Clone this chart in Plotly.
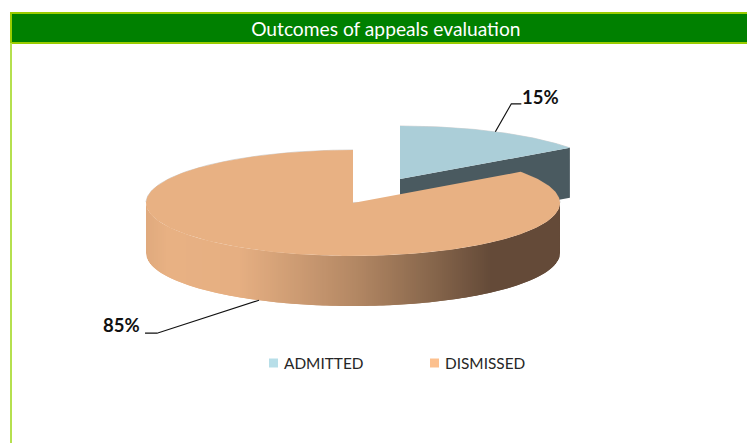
import numpy as np
import plotly.graph_objects as go

# ---- data ----
categories = ["ADMITTED", "DISMISSED"]
values = [15, 85]
title_text = "Outcomes of appeals evaluation"

# ---- styles ----
top_colors = ["#ABCED8", "#E8B183"]
legend_colors = ["#B7DEE8", "#FCC08E"]
cut_color = "#4A5A60"
FONT = "Lato"
W, H = 747, 443

# ---- projection of the tilted pie onto the plot ----
RXS, RY, DEPTH = [210, 207], 53, 50
centers = [(400, 179), (353, 203)]
total = sum(values)
shares = [v / total for v in values]
starts = [0, shares[0] * 360]
ends = [shares[0] * 360, 360]


def arc(i, a0, a1, n=120):
    cx, cy = centers[i]
    t = np.radians(np.linspace(a0, a1, n))
    return cx + RXS[i] * np.sin(t), cy - RY * np.cos(t)


def lerp_color(stops, f):
    for (f0, c0), (f1, c1) in zip(stops, stops[1:]):
        if f <= f1:
            k = (f - f0) / (f1 - f0)
            c = [round(a + (b - a) * k) for a, b in zip(c0, c1)]
            return "rgb(%d,%d,%d)" % tuple(c)
    return "rgb(%d,%d,%d)" % tuple(stops[-1][1])


wall_stops = [
    (0.00, (224, 170, 126)),
    (0.05, (232, 177, 131)),
    (0.22, (230, 175, 130)),
    (0.50, (180, 136, 100)),
    (0.70, (132, 100, 74)),
    (0.83, (100, 74, 56)),
    (1.00, (100, 74, 56)),
]

fig = go.Figure()


def poly(xs, ys, color):
    fig.add_trace(go.Scatter(
        x=list(xs), y=list(ys), mode="lines", fill="toself", fillcolor=color,
        line=dict(color=color, width=0), hoverinfo="skip", showlegend=False))


def rim_line(xs, ys):
    fig.add_trace(go.Scatter(
        x=list(xs), y=list(ys), mode="lines",
        line=dict(color="rgba(120,120,120,0.30)", width=1), hoverinfo="skip", showlegend=False))


# admitted slice: cut face then top
cx, cy = centers[0]
ex, ey = arc(0, ends[0], ends[0], 1)
poly([cx, ex[0], ex[0], cx], [cy, ey[0], ey[0] + DEPTH, cy + DEPTH], cut_color)
ax, ay = arc(0, starts[0], ends[0])
rim_line(ax, ay)
poly([cx, *ax, cx], [cy, *ay, cy], top_colors[0])

# dismissed slice: front wall as gradient strips, then top
cx, cy = centers[1]
RX = RXS[1]
strip_edges = np.arange(-RX, RX, 2.0)
for x0 in strip_edges:
    # each strip runs under its neighbour so no seams show between them
    x1 = min(x0 + 4.0, RX)
    xs = np.linspace(x0, x1, 5)
    rim = cy + RY * np.sqrt(np.clip(1 - (xs / RX) ** 2, 0, 1))
    col = lerp_color(wall_stops, (x0 + RX) / (2 * RX))
    poly([*(cx + xs), *(cx + xs[::-1])], [*rim, *(rim[::-1] + DEPTH)], col)
bx, by = arc(1, starts[1], ends[1], 300)
back = np.cos(np.radians(np.linspace(starts[1], ends[1], 300))) > 0
rim_line(bx[back], by[back])
poly([cx, *bx, cx], [cy, *by, cy], top_colors[1])

# leader lines and labels from each slice's mid angle
# (elbow dx, elbow dy, run, anchor, label dx, label dy)
offsets = [(16, -28, 10, "left", -0.5, 5), (-102, 33, -12, "right", -4, 4)]
for i, v in enumerate(values):
    mid = (starts[i] + ends[i]) / 2
    mx, my = arc(i, mid, mid, 1)
    mx, my = mx[0], my[0]
    if np.cos(np.radians(mid)) < 0:
        my += DEPTH
    dx, dy, run, anchor, ldx, ldy = offsets[i]
    fig.add_trace(go.Scatter(
        x=[mx, mx + dx, mx + dx + run], y=[my, my + dy, my + dy], mode="lines",
        line=dict(color="#111111", width=1.2), hoverinfo="skip", showlegend=False))
    fig.add_annotation(
        x=mx + dx + run + ldx, y=my + dy + ldy, xref="x", yref="y",
        text="<b>%d%%</b>" % v, showarrow=False, xanchor=anchor, yanchor="bottom",
        font=dict(family=FONT, size=18.5, color="#111111"), borderpad=0)

# legend entries: a square key with its name right beside it
legend_x = [273.5, 434.5]
legend_text_gap = 9
legend_y = 363
for name, col, lx in zip(categories, legend_colors, legend_x):
    fig.add_trace(go.Scatter(
        x=[lx], y=[legend_y], mode="markers", name=name, cliponaxis=False,
        hoverinfo="name", showlegend=False,
        marker=dict(symbol="square", size=9, color=col)))
    fig.add_annotation(
        x=lx + legend_text_gap, y=legend_y, xref="x", yref="y", text=name, showarrow=False,
        xanchor="left", yanchor="middle", borderpad=0,
        font=dict(family=FONT, size=15.4, color="#262626"))

fig.update_layout(
    width=W, height=H, margin=dict(l=0, r=0, t=0, b=0),
    paper_bgcolor="white", plot_bgcolor="white", showlegend=False,
    xaxis=dict(range=[0, W], visible=False, fixedrange=True),
    yaxis=dict(range=[H, 0], visible=False, fixedrange=True),
    title=dict(text=title_text, x=0.5165, xanchor="center", y=1 - 29 / H, yanchor="middle",
               font=dict(family=FONT, size=19.2, color="white")),
    shapes=[
        dict(type="rect", layer="below", xref="x", yref="y", x0=11, x1=W + 2, y0=13, y1=43,
             fillcolor="#008000", line=dict(color="#99CC00", width=2)),
        dict(type="line", layer="below", xref="x", yref="y", x0=11, x1=11, y0=43, y1=H,
             line=dict(color="#B5E04F", width=2)),
    ],
)

fig.write_html("out.html", config={"displayModeBar": False},
               post_script="document.body.style.margin='0';document.documentElement.style.overflow='hidden';")
